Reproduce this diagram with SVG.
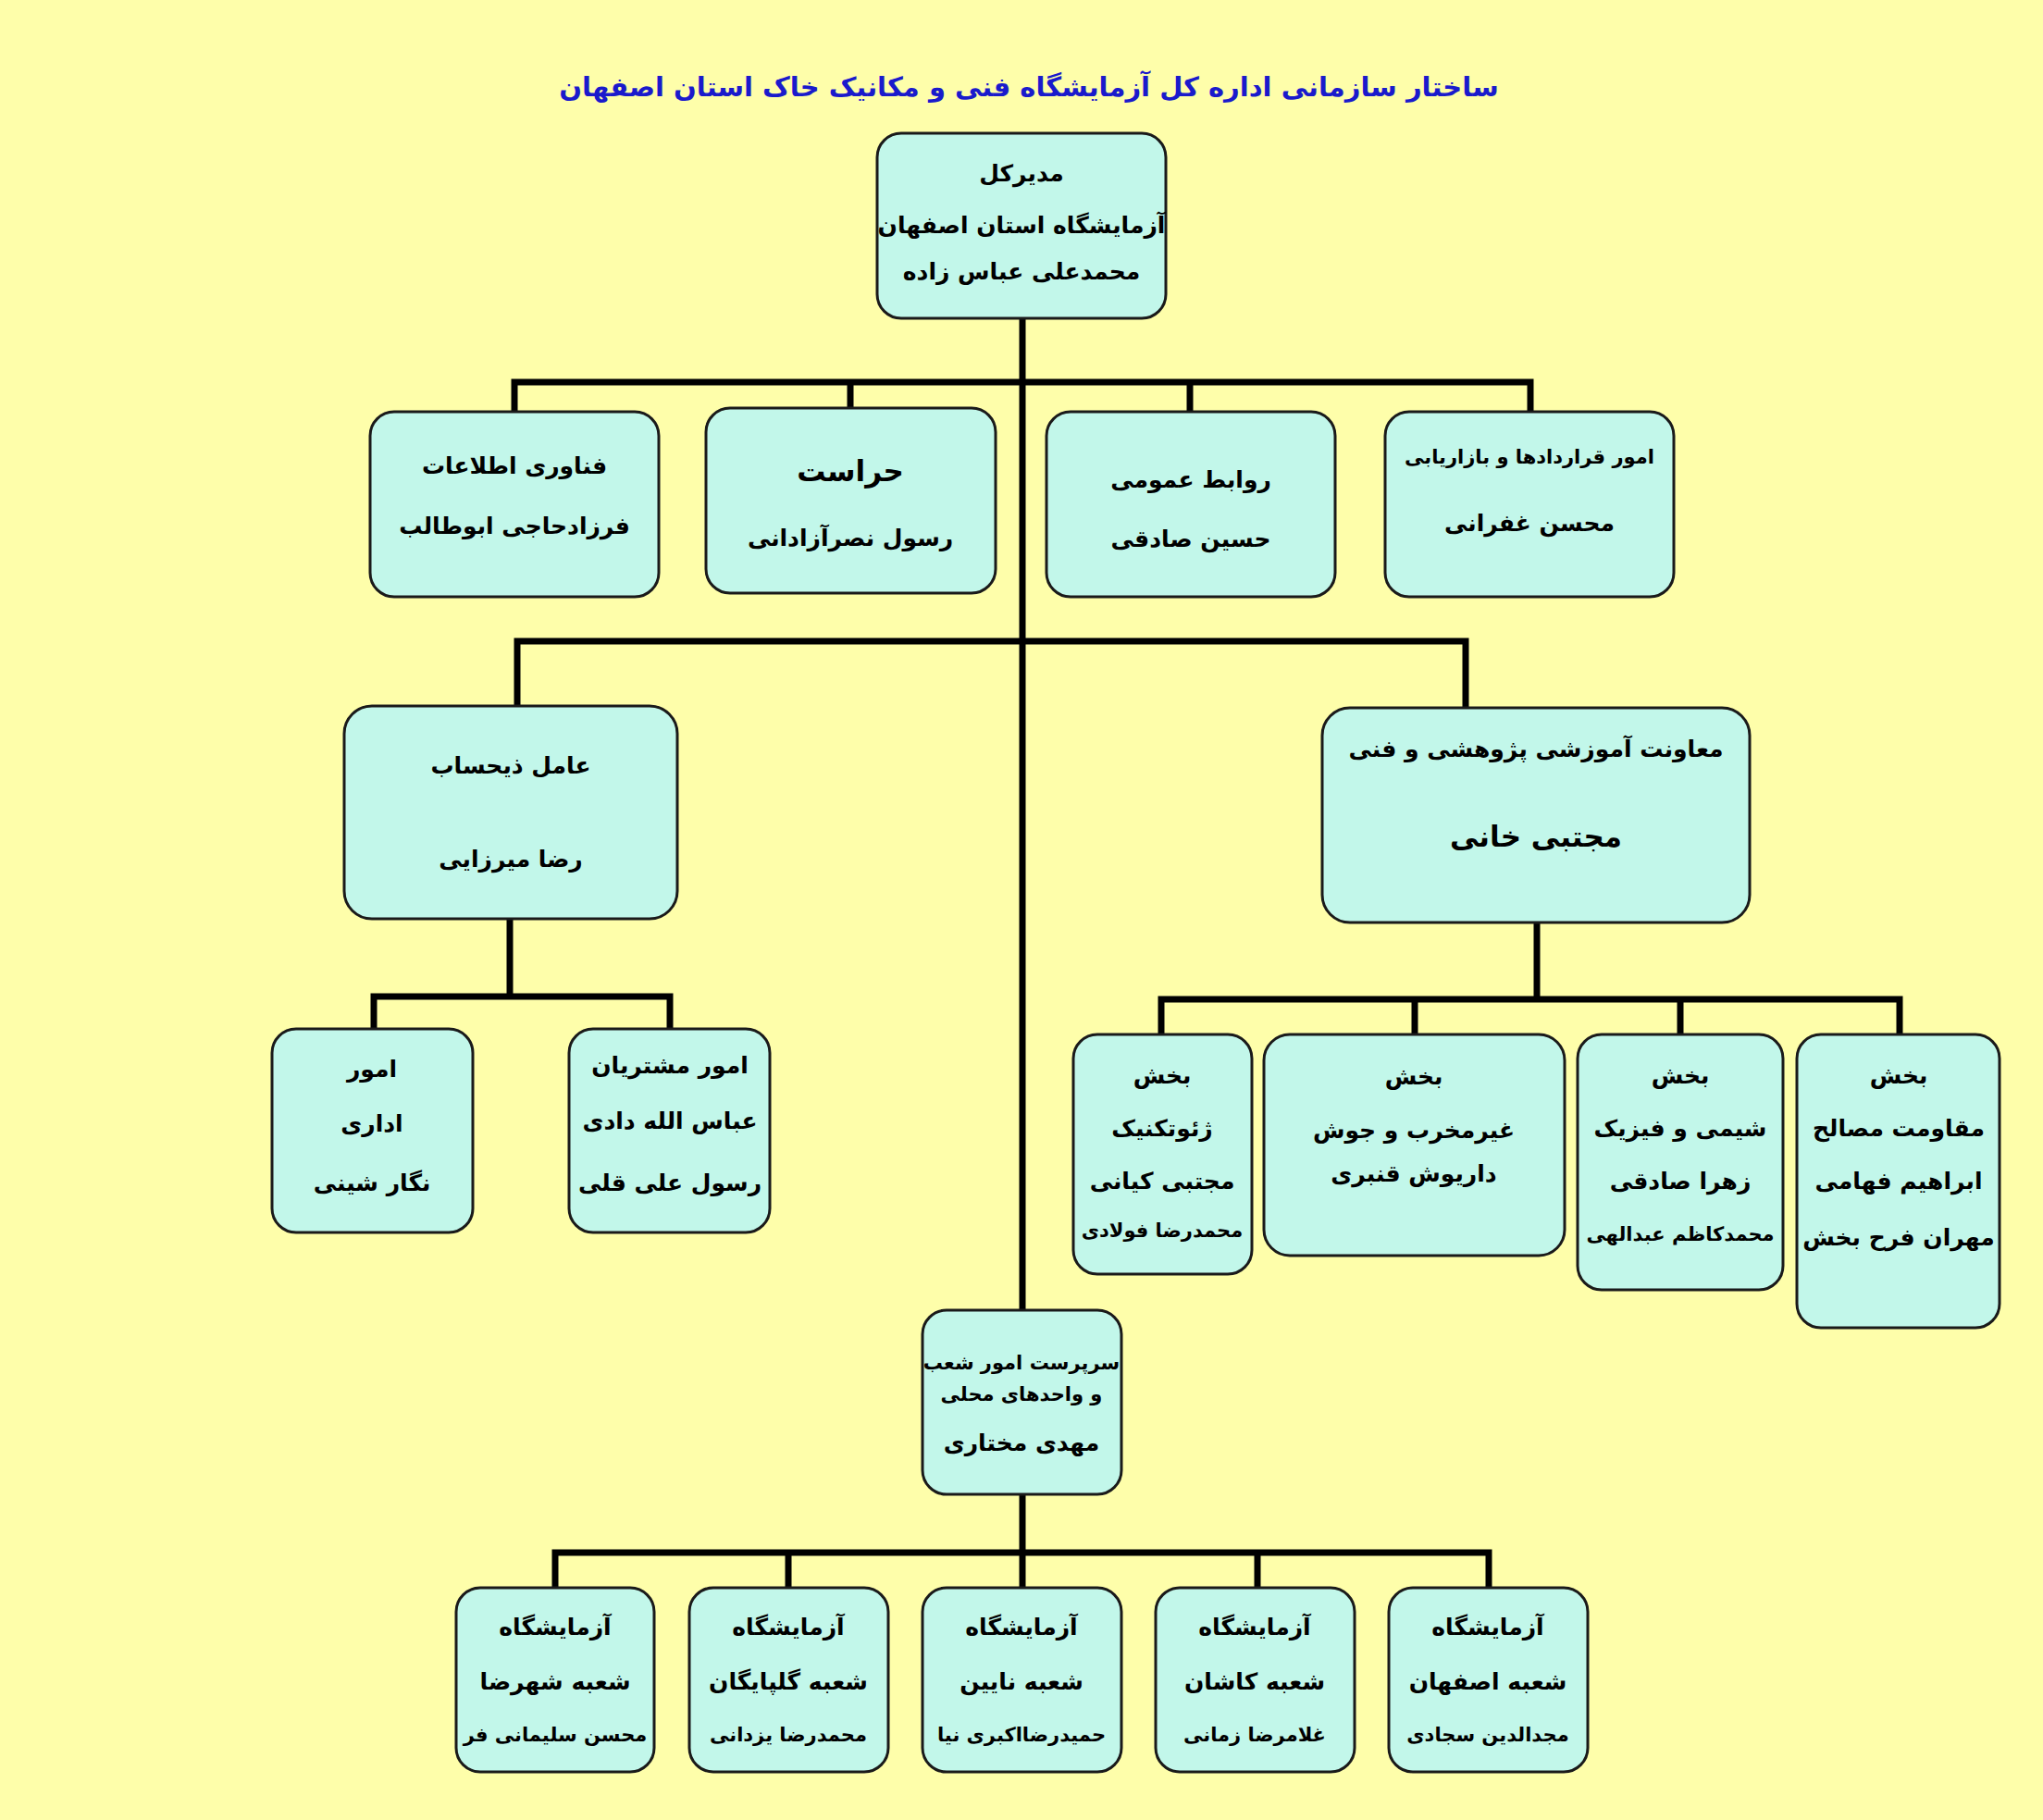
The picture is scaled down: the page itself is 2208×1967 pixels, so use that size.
<svg xmlns="http://www.w3.org/2000/svg" width="2208" height="1967" viewBox="0 0 2208 1967">
<style>
.b{fill:#c2f7ea;stroke:#1a1a1a;stroke-width:3}
.l{stroke:#000;stroke-width:7;fill:none}
text{font-family:"DejaVu Sans",sans-serif;font-weight:bold;font-size:25px;text-anchor:middle;direction:rtl;fill:#000}
.t{fill:#1a1acc;font-size:29px}
.big{font-size:31px}
.s{font-size:21px}
</style>
<rect width="2208" height="1967" fill="#fefeaa"/>
<text class="t" x="1112" y="104">ساختار سازمانی اداره کل آزمایشگاه فنی و مکانیک خاک استان اصفهان</text>
<g id="connectors">
<path class="l" d="M1105 344V1416M556 445V413H1654V445M919 441V413M1286 445V413M559 763V693H1584V765M551 993V1077M404 1112V1077H724V1112M1661 997V1080M1255 1118V1080H2053V1118M1529 1080V1118M1816 1080V1118M1105 1615V1678M600 1716V1678H1609V1716M852 1678V1716M1105 1678V1716M1359 1678V1716"/>
</g>
<g id="n0"><rect class="b" x="948" y="144" width="312" height="200" rx="26"/><text x="1104" y="196">مدیرکل</text><text x="1104" y="252">آزمایشگاه استان اصفهان</text><text x="1104" y="302">محمدعلی عباس زاده</text></g>
<g id="n1"><rect class="b" x="400" y="445" width="312" height="200" rx="26"/><text x="556" y="512">فناوری اطلاعات</text><text x="556" y="577">فرزادحاجی ابوطالب</text></g>
<g id="n2"><rect class="b" x="763" y="441" width="313" height="200" rx="26"/><text class="big" x="919" y="520">حراست</text><text x="919" y="590">رسول نصرآزادانی</text></g>
<g id="n3"><rect class="b" x="1131" y="445" width="312" height="200" rx="26"/><text x="1287" y="527">روابط عمومی</text><text x="1287" y="591">حسین صادقی</text></g>
<g id="n4"><rect class="b" x="1497" y="445" width="312" height="200" rx="26"/><text class="s" x="1653" y="501">امور قراردادها و بازاریابی</text><text x="1653" y="574">محسن غفرانی</text></g>
<g id="n5"><rect class="b" x="372" y="763" width="360" height="230" rx="30"/><text x="552" y="836">عامل ذیحساب</text><text x="552" y="937">رضا میرزایی</text></g>
<g id="n6"><rect class="b" x="1429" y="765" width="462" height="232" rx="30"/><text x="1660" y="818">معاونت  آموزشی پژوهشی و فنی</text><text class="big" x="1660" y="915">مجتبی خانی</text></g>
<g id="n7"><rect class="b" x="294" y="1112" width="217" height="220" rx="26"/><text x="402" y="1164">امور</text><text x="402" y="1223">اداری</text><text x="402" y="1287">نگار شینی</text></g>
<g id="n8"><rect class="b" x="615" y="1112" width="217" height="220" rx="26"/><text x="724" y="1160">امور مشتریان</text><text x="724" y="1220">عباس الله دادی</text><text x="724" y="1287">رسول علی قلی</text></g>
<g id="n9"><rect class="b" x="1160" y="1118" width="193" height="259" rx="26"/><text x="1256" y="1171">بخش</text><text x="1256" y="1228">ژئوتکنیک</text><text x="1256" y="1285">مجتبی کیانی</text><text class="s" x="1256" y="1337">محمدرضا فولادی</text></g>
<g id="n10"><rect class="b" x="1366" y="1118" width="325" height="239" rx="28"/><text x="1528" y="1172">بخش</text><text x="1528" y="1230">غیرمخرب و جوش</text><text x="1528" y="1277">داریوش قنبری</text></g>
<g id="n11"><rect class="b" x="1705" y="1118" width="222" height="276" rx="26"/><text x="1816" y="1171">بخش</text><text x="1816" y="1228">شیمی و فیزیک</text><text x="1816" y="1285">زهرا صادقی</text><text class="s" x="1816" y="1341">محمدکاظم عبدالهی</text></g>
<g id="n12"><rect class="b" x="1942" y="1118" width="219" height="317" rx="26"/><text x="2052" y="1171">بخش</text><text x="2052" y="1228">مقاومت مصالح</text><text x="2052" y="1285">ابراهیم فهامی</text><text x="2052" y="1346">مهران فرح بخش</text></g>
<g id="n13"><rect class="b" x="997" y="1416" width="215" height="199" rx="26"/><text class="s" x="1104" y="1480">سرپرست امور شعب</text><text class="s" x="1104" y="1514">و واحدهای محلی</text><text x="1104" y="1568">مهدی مختاری</text></g>
<g id="n14"><rect class="b" x="493" y="1716" width="214" height="199" rx="26"/><text x="600" y="1767">آزمایشگاه</text><text x="600" y="1826">شعبه شهرضا</text><text class="s" x="600" y="1882">محسن سلیمانی فر</text></g>
<g id="n15"><rect class="b" x="745" y="1716" width="215" height="199" rx="26"/><text x="852" y="1767">آزمایشگاه</text><text x="852" y="1826">شعبه گلپایگان</text><text class="s" x="852" y="1882">محمدرضا یزدانی</text></g>
<g id="n16"><rect class="b" x="997" y="1716" width="215" height="199" rx="26"/><text x="1104" y="1767">آزمایشگاه</text><text x="1104" y="1826">شعبه نایین</text><text class="s" x="1104" y="1882">حمیدرضااکبری نیا</text></g>
<g id="n17"><rect class="b" x="1249" y="1716" width="215" height="199" rx="26"/><text x="1356" y="1767">آزمایشگاه</text><text x="1356" y="1826">شعبه کاشان</text><text class="s" x="1356" y="1882">غلامرضا زمانی</text></g>
<g id="n18"><rect class="b" x="1501" y="1716" width="215" height="199" rx="26"/><text x="1608" y="1767">آزمایشگاه</text><text x="1608" y="1826">شعبه اصفهان</text><text class="s" x="1608" y="1882">مجدالدین سجادی</text></g>
</svg>
